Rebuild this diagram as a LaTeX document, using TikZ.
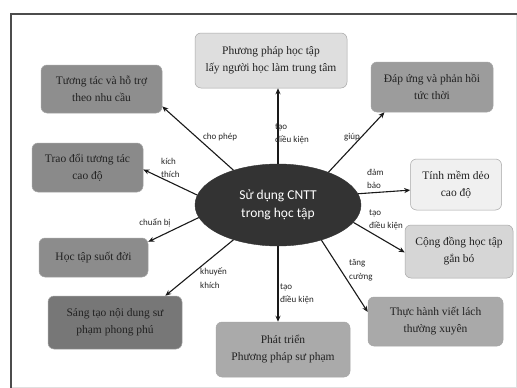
\documentclass[tikz,border=0pt]{standalone}
\usepackage{fontspec}
\setmainfont{Liberation Serif}
\newfontfamily\labfont{Carlito}
\usetikzlibrary{arrows.meta,shapes.geometric,calc}
\definecolor{cA}{HTML}{DEDEDE}
\definecolor{cB}{HTML}{8E8E8E}
\definecolor{cC}{HTML}{9C9C9C}
\definecolor{cD}{HTML}{8A8A8A}
\definecolor{cE}{HTML}{F0F0F0}
\definecolor{cF}{HTML}{8C8C8C}
\definecolor{cG}{HTML}{D6D6D6}
\definecolor{cH}{HTML}{777777}
\definecolor{cI}{HTML}{A9A9A9}
\definecolor{cJ}{HTML}{AAAAAA}
\definecolor{cEll}{HTML}{333333}
\definecolor{txt}{HTML}{222222}
\begin{document}
\begin{tikzpicture}[x=1pt,y=-1pt,
  box/.style={rectangle, rounded corners=6pt, draw=black!35, line width=0.5pt, align=center,
    text=txt, font=\fontsize{11.5}{17}\selectfont, inner sep=0pt},
  lab/.style={font=\labfont\fontsize{9}{13.5}\selectfont, text=black!85, inner sep=0pt},
  arr/.style={-{Stealth[length=6pt,width=5pt]}, line width=1.1pt, black!90}
]
\useasboundingbox (0,0) rectangle (517,388);
\fill[white] (0,0) rectangle (517,388);
% frame
\draw[black!12, line width=0.8pt] (516,14) -- (516,387) -- (11,387);
\draw[black!70, line width=1.5pt] (11,388) -- (11,14) -- (517,14);

% centre
\node[ellipse, fill=cEll, draw=cEll, minimum width=166pt, minimum height=82pt, align=center,
  text=white, font=\labfont\fontsize{13.5}{18}\selectfont] (c) at (278,205) {Sử dụng CNTT\\trong học tập};

% boxes
\node[box, fill=cA, minimum width=152pt, minimum height=55pt] (b1) at (271,60.5) {Phương pháp học tập\\lấy người học làm trung tâm};
\node[box, fill=cB, minimum width=121pt, minimum height=48pt] (b2) at (101.5,89) {Tương tác và hỗ trợ\\theo nhu cầu};
\node[box, fill=cC, minimum width=122pt, minimum height=50pt] (b3) at (432,87) {Đáp ứng và phản hồi\\tức thời};
\node[box, fill=cD, minimum width=111pt, minimum height=49pt] (b4) at (87.5,167.5) {Trao đổi tương tác\\cao độ};
\node[box, fill=cE, minimum width=91pt, minimum height=51pt] (b5) at (456,184.5) {Tính mềm dẻo\\cao độ};
\node[box, fill=cF, minimum width=109pt, minimum height=39pt] (b7) at (93.5,257.5) {Học tập suốt đời};
\node[box, fill=cG, minimum width=108pt, minimum height=53pt] (b8) at (459,251.5) {Cộng đồng học tập\\gắn bó};
\node[box, fill=cH, minimum width=134pt, minimum height=53pt] (b9) at (115,322.5) {Sáng tạo nội dung sư\\phạm phong phú};
\node[box, fill=cI, minimum width=135pt, minimum height=49pt] (b10) at (435.5,321.5) {Thực hành viết lách\\thường xuyên};
\node[box, fill=cJ, minimum width=134pt, minimum height=55pt] (b11) at (283,349.5) {Phát triển\\Phương pháp sư phạm};

% arrows
\draw[arr] (c.north) -- (c.north |- b1.south);
\draw[arr] (c.142.5) -- (b2.-16);
\draw[arr] (c.33.7) -- (b3.208.5);
\draw[arr] (c.173) -- (b4.-2.6);
\draw[arr] (c.8.5) -- (b5.187);
\draw[arr] (c.-13) -- (b8.181);
\draw[arr] (c.-39.6) -- (b10.172);
\draw[arr] (c.south) -- (c.south |- b11.north);
\draw[arr] (c.189.5) -- (b7.16.8);
\draw[arr] (c.218) -- (b9.28);

% labels
\node[lab] (l1) at (220,137) {cho phép};
\node[lab, align=left, anchor=west] (l2) at (275,134) {tạo\\điều kiện};
\node[lab] (l3) at (352,137) {giúp};
\node[lab, align=left, anchor=west] (l4) at (161,168) {kích\\thích};
\node[lab, align=left, anchor=west] (l5) at (367,179) {đảm\\bảo};
\node[lab, align=left, anchor=west] (l6) at (369,220) {tạo\\điều kiện};
\node[lab, align=left, anchor=west] (l7) at (349,270) {tăng\\cường};
\node[lab, align=left, anchor=west] (l8) at (280,294) {tạo\\điều kiện};
\node[lab] (l9) at (155,223) {chuẩn bị};
\node[lab, align=left, anchor=west] (l10) at (200,278) {khuyến\\khích};
\end{tikzpicture}
\end{document}
